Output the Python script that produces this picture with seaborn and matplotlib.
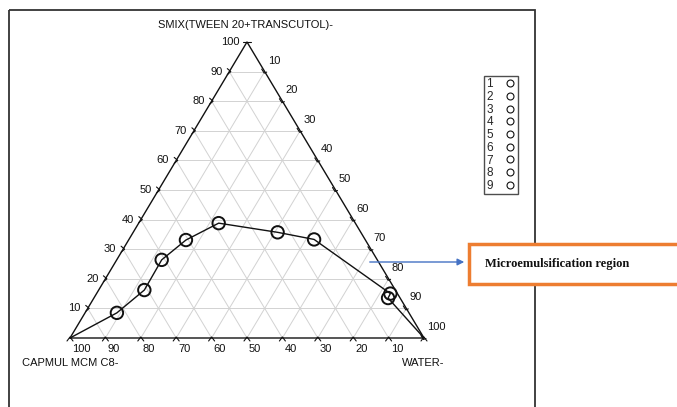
import numpy as np
import pandas as pd
import matplotlib
matplotlib.use("Agg")
import matplotlib.pyplot as plt
import matplotlib.patches as mpatches
from matplotlib.lines import Line2D
import seaborn as sns

# ---------------- data (percent) ----------------
point_ids = ["1", "2", "3", "4", "5", "6", "7", "8", "9"]
capmul = [82.5, 70.9, 60.9, 50.7, 38.6, 23.5, 14.4, 2.0, 3.4]
smix = [8.5, 16.2, 26.4, 33.1, 38.8, 35.7, 33.3, 15.0, 13.5]
water = [9.0, 12.9, 12.7, 16.2, 22.6, 40.8, 52.3, 83.0, 83.1]

bottom_ticks = [100, 90, 80, 70, 60, 50, 40, 30, 20, 10]   # capmul %
left_ticks = [10, 20, 30, 40, 50, 60, 70, 80, 90, 100]     # smix %
right_ticks = [10, 20, 30, 40, 50, 60, 70, 80, 90, 100]    # water %

title_top = "SMIX(TWEEN 20+TRANSCUTOL)-"
label_left = "CAPMUL MCM C8-"
label_right = "WATER-"
annotation = "Microemulsification region"

# ---------------- geometry ----------------
X0, Y0, W_PX, H_PX = 70.0, 338.0, 354.0, 296.0


def to_xy(s, w):
    s = np.asarray(s, dtype=float) / 100.0
    w = np.asarray(w, dtype=float) / 100.0
    return X0 + W_PX * (w + s / 2.0), Y0 - H_PX * s


sns.set_theme(style="white")
plt.rcParams["font.family"] = ["Liberation Sans", "DejaVu Sans"]

fig = plt.figure(figsize=(6.77, 4.07), dpi=100)
ax = fig.add_axes([0, 0, 1, 1])
ax.set_xlim(0, 677)
ax.set_ylim(407, 0)
ax.axis("off")

# outer frame
ax.add_patch(mpatches.Rectangle((9, 10), 526, 430, fill=False, edgecolor="#333333", lw=1.3, zorder=1))

# grid lines
grid_kw = dict(color="#d2d2d2", lw=0.7, zorder=2)
for k in range(10, 100, 10):
    xa, ya = to_xy([k, k], [0, 100 - k])
    ax.plot(xa, ya, **grid_kw)
    xa, ya = to_xy([0, 100 - k], [k, k])
    ax.plot(xa, ya, **grid_kw)
    xa, ya = to_xy([0, 100 - k], [100 - k, 0])
    ax.plot(xa, ya, **grid_kw)

# triangle edges
tx, ty = to_xy([0, 100, 0, 0], [0, 0, 100, 0])
ax.plot(tx, ty, color="#111111", lw=1.0, zorder=3)

tk = dict(color="#111111", lw=0.8, zorder=3)
fs = 8
# left axis (smix)
for v in left_ticks:
    x, y = to_xy(v, 0)
    if v == 100:
        ax.plot([x - 4, x + 4], [y, y], **tk)
    else:
        ax.plot([x - 2, x + 1.5, x - 2], [y - 3, y, y + 3], **tk)
    ax.text(x - 7, y, str(v), ha="right", va="center", fontsize=fs, color="#111111")
# right axis (water)
for v in right_ticks:
    x, y = to_xy(100 - v, v)
    ax.plot([x - 3, x - 0.5, x + 2], [y - 2.5, y + 1.5, y + 0.5], **tk)
    ax.text(x + 3, y - 11, str(v), ha="left", va="center", fontsize=fs, color="#111111")
# bottom axis (capmul)
for v in bottom_ticks:
    x, y = to_xy(0, 100 - v)
    ax.plot([x - 3, x, x + 3], [y + 3, y - 1, y + 3], **tk)
    ax.text(x + 2, y + 11, str(v), ha="left", va="center", fontsize=fs, color="#111111")
xr, yr = to_xy(0, 100)
ax.plot([xr - 3, xr, xr + 3], [yr + 3, yr - 1, yr + 3], **tk)

ax.text(246, 25, title_top, ha="center", va="center", fontsize=fs, color="#111111")
ax.text(22, 363, label_left, ha="left", va="center", fontsize=fs, color="#111111")
ax.text(402, 363, label_right, ha="left", va="center", fontsize=fs, color="#111111")

# ---------------- data marks ----------------
px, py = to_xy(smix, water)
df = pd.DataFrame({"id": point_ids, "x": px, "y": py})
lx, ly = to_xy([0] + smix + [0], [0] + water + [100])
line_df = pd.DataFrame({"x": lx, "y": ly})
sns.lineplot(data=line_df, x="x", y="y", sort=False, estimator=None, color="#111111", lw=1.0, ax=ax, zorder=4)
sns.scatterplot(data=df, x="x", y="y", s=80, marker="o", facecolor="none", edgecolor="#111111",
                linewidth=1.4, ax=ax, zorder=5, legend=False)
ax.set_xlim(0, 677)
ax.set_ylim(407, 0)
ax.axis("off")

# legend of point ids
handles = [Line2D([], [], ls="none", marker="o", markersize=5, markerfacecolor="white",
                  markeredgecolor="#111111", markeredgewidth=0.8) for _ in point_ids]
leg = ax.legend(handles, point_ids, loc="upper left", bbox_to_anchor=(484 / 677, 1 - 76 / 407),
                bbox_transform=fig.transFigure, markerfirst=False, frameon=True, fancybox=False,
                fontsize=8.5, labelspacing=0.06, handlelength=1.0, handletextpad=0.9,
                borderpad=0.2, borderaxespad=0)
leg.get_frame().set_edgecolor("#222222")
leg.get_frame().set_linewidth(1.0)

# annotation box and arrow
ax.add_patch(mpatches.Rectangle((469, 244), 220, 40, fill=True, facecolor="white",
                                edgecolor="#ED7D31", lw=2.5, zorder=6, clip_on=True))
ax.text(485, 264, annotation, ha="left", va="center", fontsize=9, fontweight="bold",
        family=["Liberation Serif", "DejaVu Serif"], color="#111111", zorder=7)
ax.annotate("", xy=(467, 262), xytext=(367, 262),
            arrowprops=dict(arrowstyle="-|>", color="#4472C4", lw=1.0, mutation_scale=10), zorder=7)

fig.savefig("out.png", dpi=100)
